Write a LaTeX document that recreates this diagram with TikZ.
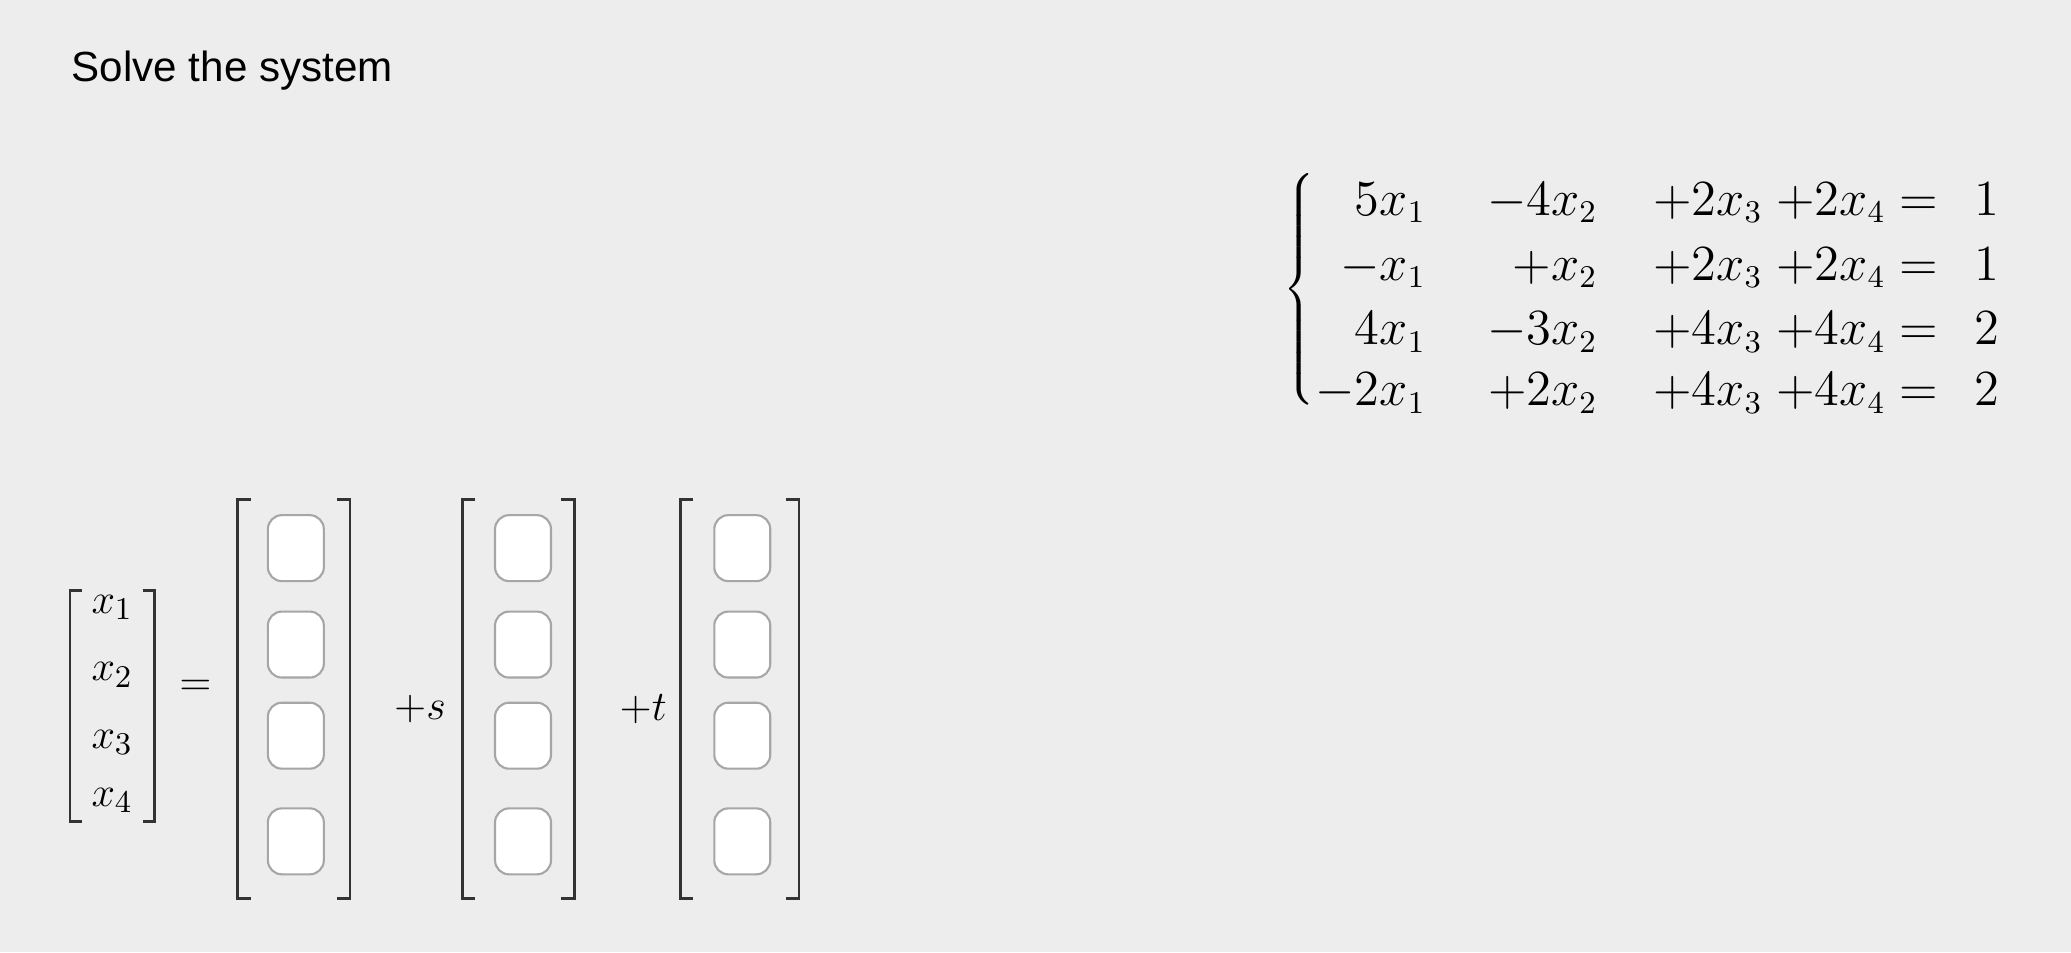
\documentclass[tikz,border=0pt]{standalone}
\usepackage{fontspec}
\setmainfont{Liberation Sans}
\begin{document}
\begin{tikzpicture}[x=0.01321cm,y=-0.01321cm,
  eq/.style={anchor=base east,font=\fontsize{13.5}{16}\selectfont,inner sep=0pt},
  ent/.style={font=\fontsize{13}{16}\selectfont,inner sep=0pt},
  bx/.style={draw=gray!70,fill=white,rounded corners=4pt,minimum width=0.56cm,minimum height=0.66cm,line width=0.6pt},
  brk/.style={line width=0.8pt,black!80}]
\useasboundingbox[fill=gray!14] (0,0) rectangle (1568,721);
\node[anchor=base west,font=\fontsize{12}{14}\selectfont] (title) at (45,62) {Solve the system};
% system
\node[inner sep=0pt] (brace) at (985,222) {$\left\{\rule[-1.15cm]{0pt}{2.3cm}\right.$};
\foreach \r/\y/\a/\b/\c/\d/\e in {1/163/5x_1/-4x_2/+2x_3/+2x_4 =/1,2/212/-x_1/+x_2/+2x_3/+2x_4 =/1,3/261/4x_1/-3x_2/+4x_3/+4x_4 =/2,4/307/-2x_1/+2x_2/+4x_3/+4x_4 =/2}{
  \node[eq] (a\r) at (1080,\y) {$\a$};
  \node[eq] (b\r) at (1210,\y) {$\b$};
  \node[eq] (c\r) at (1335,\y) {$\c$};
  \node[eq] (d\r) at (1468,\y) {$\d$};
  \node[eq] (e\r) at (1514,\y) {$\e$};
}
% x vector
\draw[brk] (62,447) -- (53,447) -- (53,622) -- (62,622);
\draw[brk] (108,447) -- (117,447) -- (117,622) -- (108,622);
\foreach \i/\y in {1/460,2/511,3/562,4/606}{\node[ent] (x\i) at (85,\y) {$x_\i$};}
\node[ent] (eqs) at (148,521) {$=$};
% matrices
\foreach \m/\xl/\xr/\xb in {p/180/265/224,s/350/435/396,t/515/605/562}{
  \draw[brk] (\xl+10,378) -- (\xl,378) -- (\xl,680) -- (\xl+10,680);
  \draw[brk] (\xr-10,378) -- (\xr,378) -- (\xr,680) -- (\xr-10,680);
  \foreach \i/\y in {1/415,2/488,3/557,4/637}{\node[bx] (\m\i) at (\xb,\y) {};}
}
\node[ent] (ps) at (318,537) {$+s$};
\node[ent] (pt) at (487,537) {$+t$};
\end{tikzpicture}
\end{document}
